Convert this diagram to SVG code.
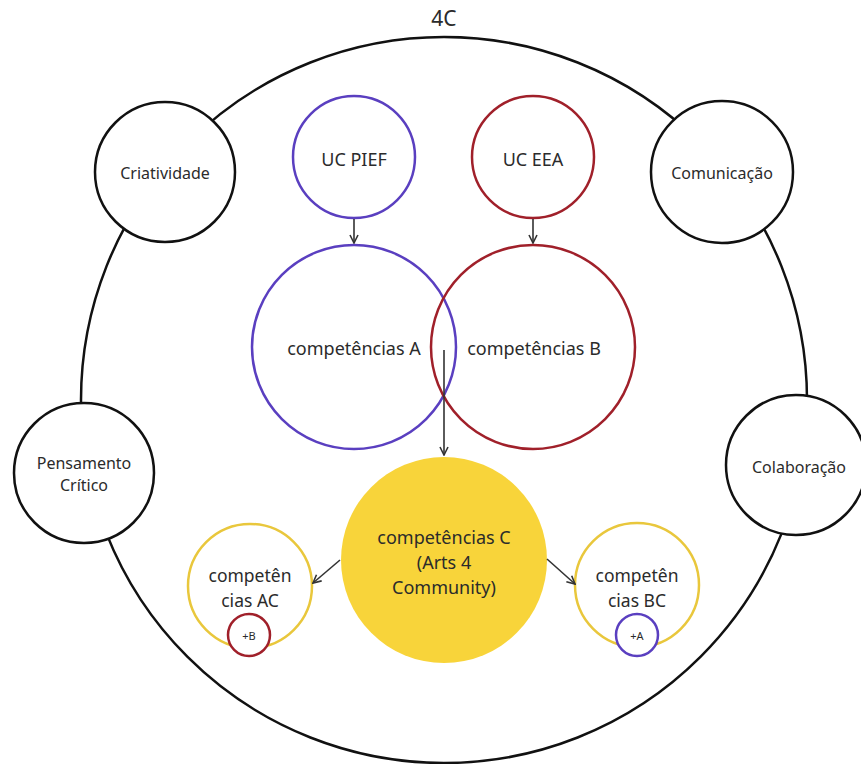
<svg xmlns="http://www.w3.org/2000/svg" width="861" height="764" viewBox="0 0 861 764">
<style>
text{font-family:"Noto Sans","Open Sans","DejaVu Sans",sans-serif;fill:#2b2b2b;text-anchor:middle;dominant-baseline:central}
.blk{fill:#fff;stroke:#111;stroke-width:2.5}
.pur{fill:none;stroke:#5a3fc0;stroke-width:2.5}
.red{fill:none;stroke:#a0202a;stroke-width:2.5}
.yel{fill:#fff;stroke:#e9c73c;stroke-width:2.5}
.conn{stroke:#333;stroke-width:1.6;fill:none}
.t16{font-size:16px}.t18{font-size:18px}.t175{font-size:17.5px}.sm{font-size:11px}
</style>
<defs>
<marker id="arr" viewBox="0 0 10 10" refX="9" refY="5" markerWidth="10" markerHeight="10" markerUnits="userSpaceOnUse" orient="auto">
<polyline points="1,1 9,5 1,9" fill="none" stroke="#333" stroke-width="1.6"/>
</marker>
</defs>
<rect width="861" height="764" fill="#fff"/>
<g id="outer">
<circle cx="444" cy="400" r="363" fill="none" stroke="#111" stroke-width="2.5"/>
<text x="444" y="18" style="font-size:21px">4C</text>
</g>
<g id="criatividade"><circle class="blk" cx="165" cy="172" r="70"/><text class="t16" x="165" y="173">Criatividade</text></g>
<g id="comunicacao"><circle class="blk" cx="722" cy="172" r="71"/><text class="t16" x="722" y="173">Comunicação</text></g>
<g id="pensamento"><circle class="blk" cx="84" cy="473" r="70"/><text class="t16" x="84" y="463">Pensamento</text><text class="t16" x="84" y="485">Crítico</text></g>
<g id="colaboracao"><circle class="blk" cx="796" cy="465" r="70"/><text class="t16" x="799" y="467">Colaboração</text></g>
<g id="uc-pief"><circle cx="354" cy="157" r="61" fill="#fff" stroke="#5a3fc0" stroke-width="2.5"/><text class="t18" x="354" y="159">UC PIEF</text></g>
<g id="uc-eea"><circle cx="533" cy="157" r="61" fill="#fff" stroke="#a0202a" stroke-width="2.5"/><text class="t18" x="533" y="159">UC EEA</text></g>
<g id="comp-a"><circle class="pur" cx="354" cy="347" r="102"/><text class="t18" x="354" y="348">competências A</text></g>
<g id="comp-b"><circle class="red" cx="533" cy="347" r="102"/><text class="t18" x="534" y="348">competências B</text></g>
<g id="comp-c"><circle cx="444" cy="560" r="103" fill="#f8d43a"/><text class="t18" x="444" y="537">competências C</text><text class="t18" x="444" y="562">(Arts 4</text><text class="t18" x="444" y="587">Community)</text></g>
<g id="comp-ac"><circle class="yel" cx="250" cy="586" r="62"/><text class="t175" x="250" y="575">competên</text><text class="t175" x="250" y="600">cias AC</text>
<circle cx="249" cy="635" r="21" fill="#fff" stroke="#a0202a" stroke-width="2.5"/><text class="sm" x="249" y="635">+B</text></g>
<g id="comp-bc"><circle class="yel" cx="637" cy="585" r="62"/><text class="t175" x="637" y="575">competên</text><text class="t175" x="637" y="600">cias BC</text>
<circle cx="637" cy="635" r="21" fill="#fff" stroke="#5a3fc0" stroke-width="2.5"/><text class="sm" x="637" y="635">+A</text></g>
<g id="connectors">
<line class="conn" x1="354" y1="219" x2="354" y2="243" marker-end="url(#arr)"/>
<line class="conn" x1="533" y1="219" x2="533" y2="243" marker-end="url(#arr)"/>
<line class="conn" x1="444" y1="350" x2="444" y2="455" marker-end="url(#arr)"/>
<line class="conn" x1="340" y1="560" x2="313" y2="583" marker-end="url(#arr)"/>
<line class="conn" x1="547" y1="559" x2="575" y2="584" marker-end="url(#arr)"/>
</g>
</svg>
